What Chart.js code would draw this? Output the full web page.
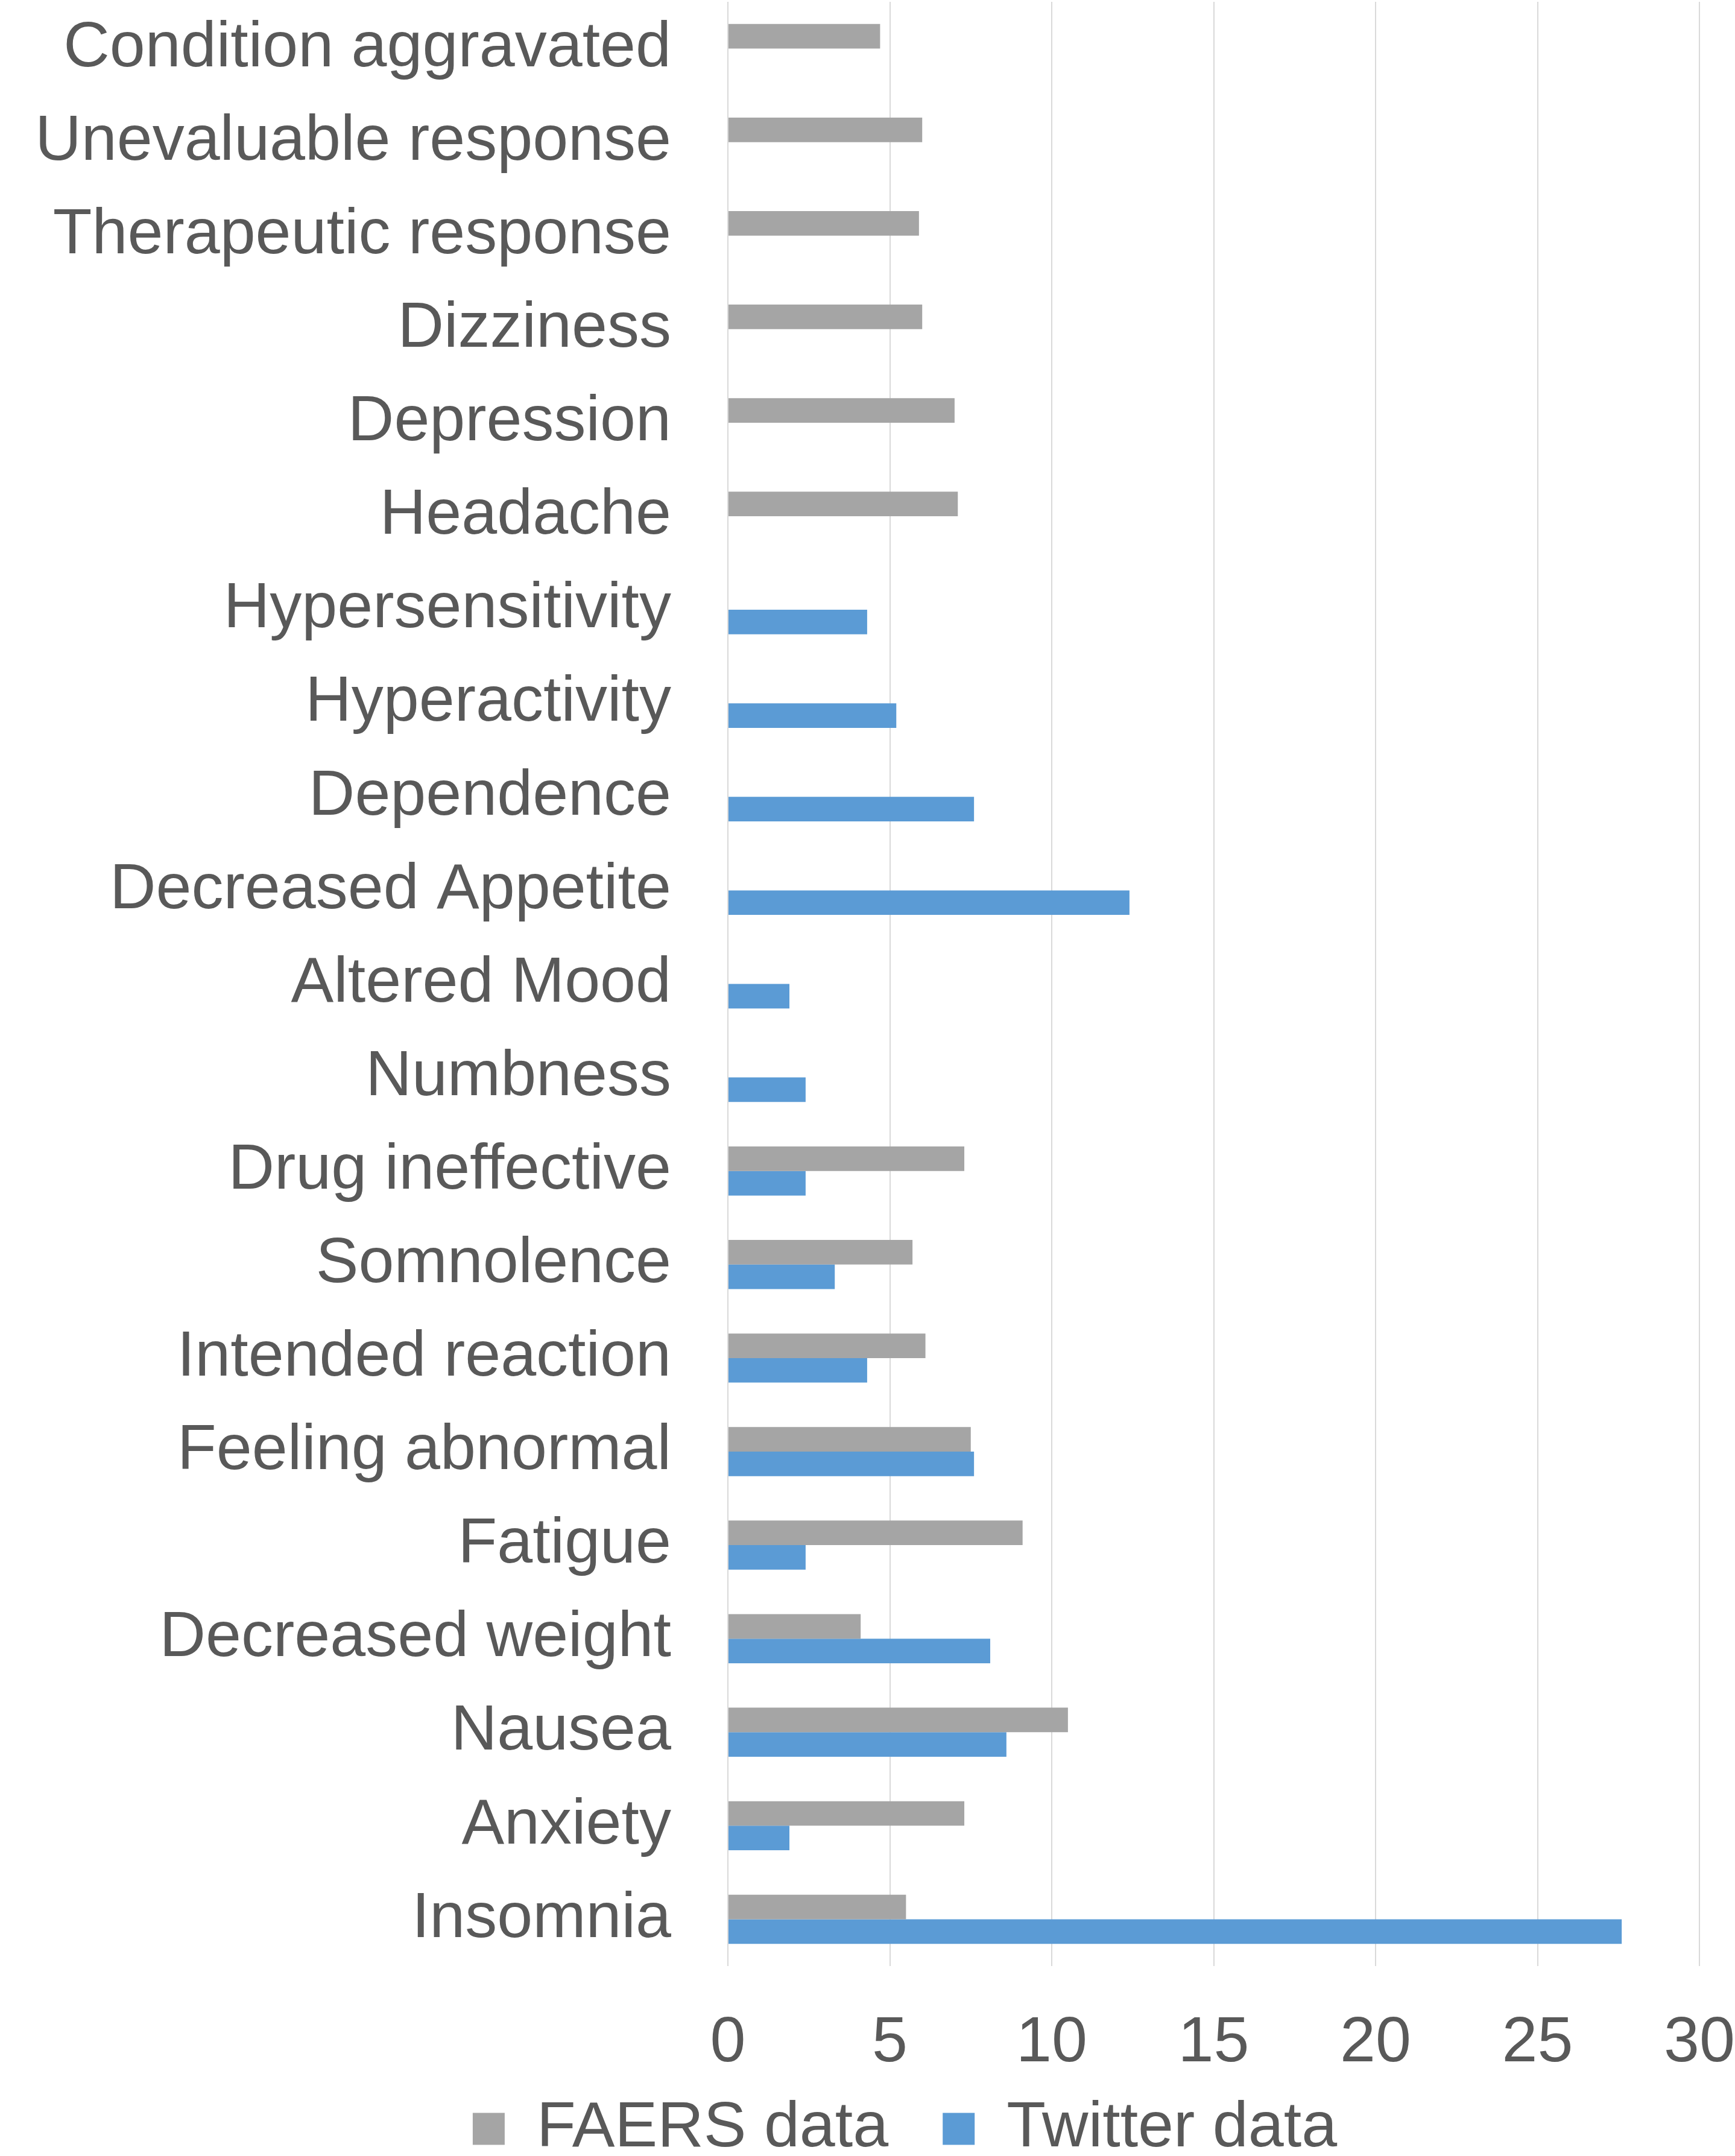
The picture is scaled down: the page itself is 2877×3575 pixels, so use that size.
<!DOCTYPE html>
<html>
<head>
<meta charset="utf-8">
<script src="https://cdn.jsdelivr.net/npm/chart.js@4.4.1/dist/chart.umd.min.js"></script>
<style>
  html, body { margin: 0; padding: 0; background: #fff; }
  #wrap { width: 2877px; height: 3575px; }
</style>
</head>
<body>
<div id="wrap"><canvas id="bar-chart" width="2877" height="3575"></canvas></div>
<script>
var categories = [
    "Condition aggravated", "Unevaluable response", "Therapeutic response", "Dizziness",
    "Depression", "Headache", "Hypersensitivity", "Hyperactivity", "Dependence",
    "Decreased Appetite", "Altered Mood", "Numbness", "Drug ineffective", "Somnolence",
    "Intended reaction", "Feeling abnormal", "Fatigue", "Decreased weight", "Nausea",
    "Anxiety", "Insomnia"
];
var faersData = [4.7, 6.0, 5.9, 6.0, 7.0, 7.1, null, null, null, null, null, null,
                 7.3, 5.7, 6.1, 7.5, 9.1, 4.1, 10.5, 7.3, 5.5];
var twitterData = [null, null, null, null, null, null, 4.3, 5.2, 7.6, 12.4, 1.9, 2.4,
                   2.4, 3.3, 4.3, 7.6, 2.4, 8.1, 8.6, 1.9, 27.6];
var xTicks = [0, 5, 10, 15, 20, 25, 30];

var textColor = "#595959";
var fontFamily = "'Liberation Sans', Arial, sans-serif";

// the legend needs wide spacing between items but sits low, so move it after layout
var legendShift = {
    id: "legendShift",
    afterLayout: function(chart) {
        var lg = chart.legend;
        lg.top -= 53;
        lg.bottom -= 53;
        lg.left += 62;
        lg.right += 62;
    }
};

var ctx = document.getElementById("bar-chart").getContext("2d");
var barChart = new Chart(ctx, {
    type: "bar",
    data: {
        labels: categories,
        datasets: [
            {
                label: "FAERS data",
                data: faersData,
                backgroundColor: "#A5A5A5",
                categoryPercentage: 0.525,
                barPercentage: 1.0
            },
            {
                label: "Twitter data",
                data: twitterData,
                backgroundColor: "#5B9BD5",
                categoryPercentage: 0.525,
                barPercentage: 1.0
            }
        ]
    },
    plugins: [legendShift],
    options: {
        indexAxis: "y",
        responsive: false,
        animation: false,
        devicePixelRatio: 1,
        layout: {
            padding: { left: 0, top: 3, right: 0, bottom: -71 }
        },
        scales: {
            x: {
                min: 0,
                max: 30,
                afterBuildTicks: function(scale) {
                    scale.ticks = xTicks.map(function(v) { return { value: v }; });
                },
                afterFit: function(scale) {
                    scale.height = 180;
                },
                grid: {
                    color: "#D9D9D9",
                    lineWidth: 2,
                    drawTicks: true,
                    tickLength: 65,
                    tickColor: "rgba(0,0,0,0)"
                },
                border: { display: false },
                ticks: {
                    color: textColor,
                    padding: 0,
                    font: { family: fontFamily, size: 106 }
                }
            },
            y: {
                afterFit: function(scale) {
                    scale.width = 1207;
                },
                grid: {
                    color: "rgba(0,0,0,0)",
                    drawTicks: true,
                    tickLength: 94
                },
                border: { display: false },
                ticks: {
                    color: textColor,
                    padding: 0,
                    autoSkip: false,
                    font: { family: fontFamily, size: 106, lineHeight: 0.05 }
                }
            }
        },
        plugins: {
            tooltip: { enabled: false },
            legend: {
                position: "bottom",
                labels: {
                    color: textColor,
                    boxWidth: 53,
                    boxHeight: 53,
                    padding: 90,
                    font: { family: fontFamily, size: 106 }
                }
            }
        }
    }
});
</script>
</body>
</html>
